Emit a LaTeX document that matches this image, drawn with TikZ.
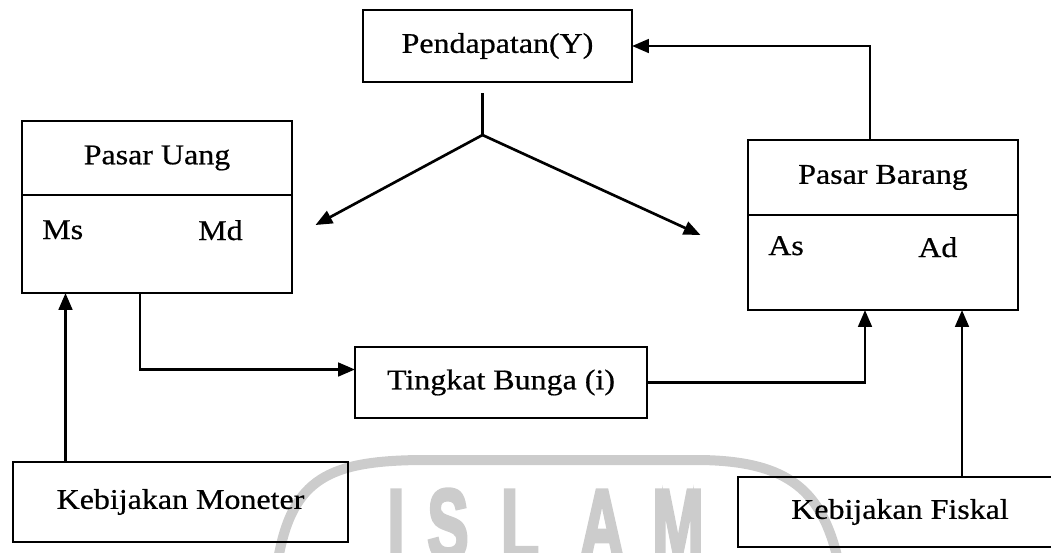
\documentclass[tikz,border=0pt]{standalone}
\usepackage{fontspec}
\setmainfont{Liberation Serif}[FakeStretch=1.12,FakeBold=0.6]
\newfontfamily\wmfont{Liberation Sans Bold}[FakeBold=4]
\usepackage{tikz}
\usetikzlibrary{arrows.meta,positioning}
\definecolor{wmgray}{gray}{0.8}

\begin{document}
\begin{tikzpicture}[x=0.025cm,y=-0.025cm]
  \tikzset{box/.style = {draw,line width=1.9pt,outer sep=0pt,inner sep=0pt,font=\fontsize{20.3}{24}\selectfont}}
  \tikzset{link/.style = {line width=1.9pt,-{Triangle[length=0.42cm,width=0.34cm]}}}
  \tikzset{plain/.style = {line width=1.9pt}}
  \tikzset{lbl/.style = {anchor=base west,inner sep=0pt,font=\fontsize{20.3}{24}\selectfont}}
  \tikzset{wm/.style = {anchor=base,inner sep=0pt,text=wmgray,font=\wmfont\fontsize{71}{80}\selectfont}}

  \useasboundingbox (0,0) rectangle (1051,552);
  \clip (0,0) rectangle (1051,552);

% watermark
  \draw[wmgray,line width=0.25cm] (278,560) .. controls (292,478) and (330,461) .. (420,460)
    -- (700,460) .. controls (790,461) and (822,492) .. (838,560);
  \foreach \wmch/\xx [count=\i] in {I/396,S/448,L/520,A/602,M/678}
    \node[wm] (wm\i) at (\xx,559) {\scalebox{0.62}[1]{\wmch}};

\node[box,minimum width=6.725cm,minimum height=1.8cm] (pend) at (497.5,46) {Pendapatan(Y)};

\node[box,minimum width=6.75cm,minimum height=1.85cm] (uang) at (157,158) {Pasar Uang};
\node[box,minimum width=6.75cm,minimum height=2.45cm,below=0pt of uang] (uangbody) {};
\node[lbl] (ms) at (42,239) {Ms};
\node[lbl] (md) at (198,240) {Md};

\node[box,minimum width=6.75cm,minimum height=1.875cm] (barang) at (883,177.5) {Pasar Barang};
\node[box,minimum width=6.75cm,minimum height=2.375cm,below=0pt of barang] (barangbody) {};
\node[lbl] (as) at (768,255) {As};
\node[lbl] (ad) at (918,257) {Ad};

\node[box,minimum width=7.3cm,minimum height=1.775cm] (bunga) at (501,382.5) {Tingkat Bunga (i)};
\node[box,minimum width=8.375cm,minimum height=2cm] (moneter) at (180.5,502) {Kebijakan Moneter};
\node[box,minimum width=8.1cm,minimum height=1.75cm] (fiskal) at (900,512) {Kebijakan Fiskal};

% income splits to both markets
\coordinate (stem) at ([shift={(-15,11)}]pend.south);
\coordinate (fork) at ([shift={(0,42)}]stem);
\coordinate (tomoney) at ([shift={(-167,90)}]fork);
\coordinate (togoods) at ([shift={(218,100)}]fork);
  \draw[plain] (stem) -- (fork);
  \draw[link] (fork) -- (tomoney);
  \draw[link] (fork) -- (togoods);

  \draw[link] ([shift={(-13,0)}]barang.north) |- (pend.east);
  \draw[link] ([shift={(-17,0)}]uangbody.south) |- ([shift={(0,-13)}]bunga.west);
  \draw[link] (bunga.east) -| ([shift={(-18,0)}]barangbody.south);

\coordinate (monup) at ([shift={(-115,0)}]moneter.north);
\coordinate (fisup) at ([shift={(62,0)}]fiskal.north);
  \draw[link] (monup) -- (monup |- uangbody.south);
  \draw[link] (fisup) -- (fisup |- barangbody.south);

\end{tikzpicture}
\end{document}
